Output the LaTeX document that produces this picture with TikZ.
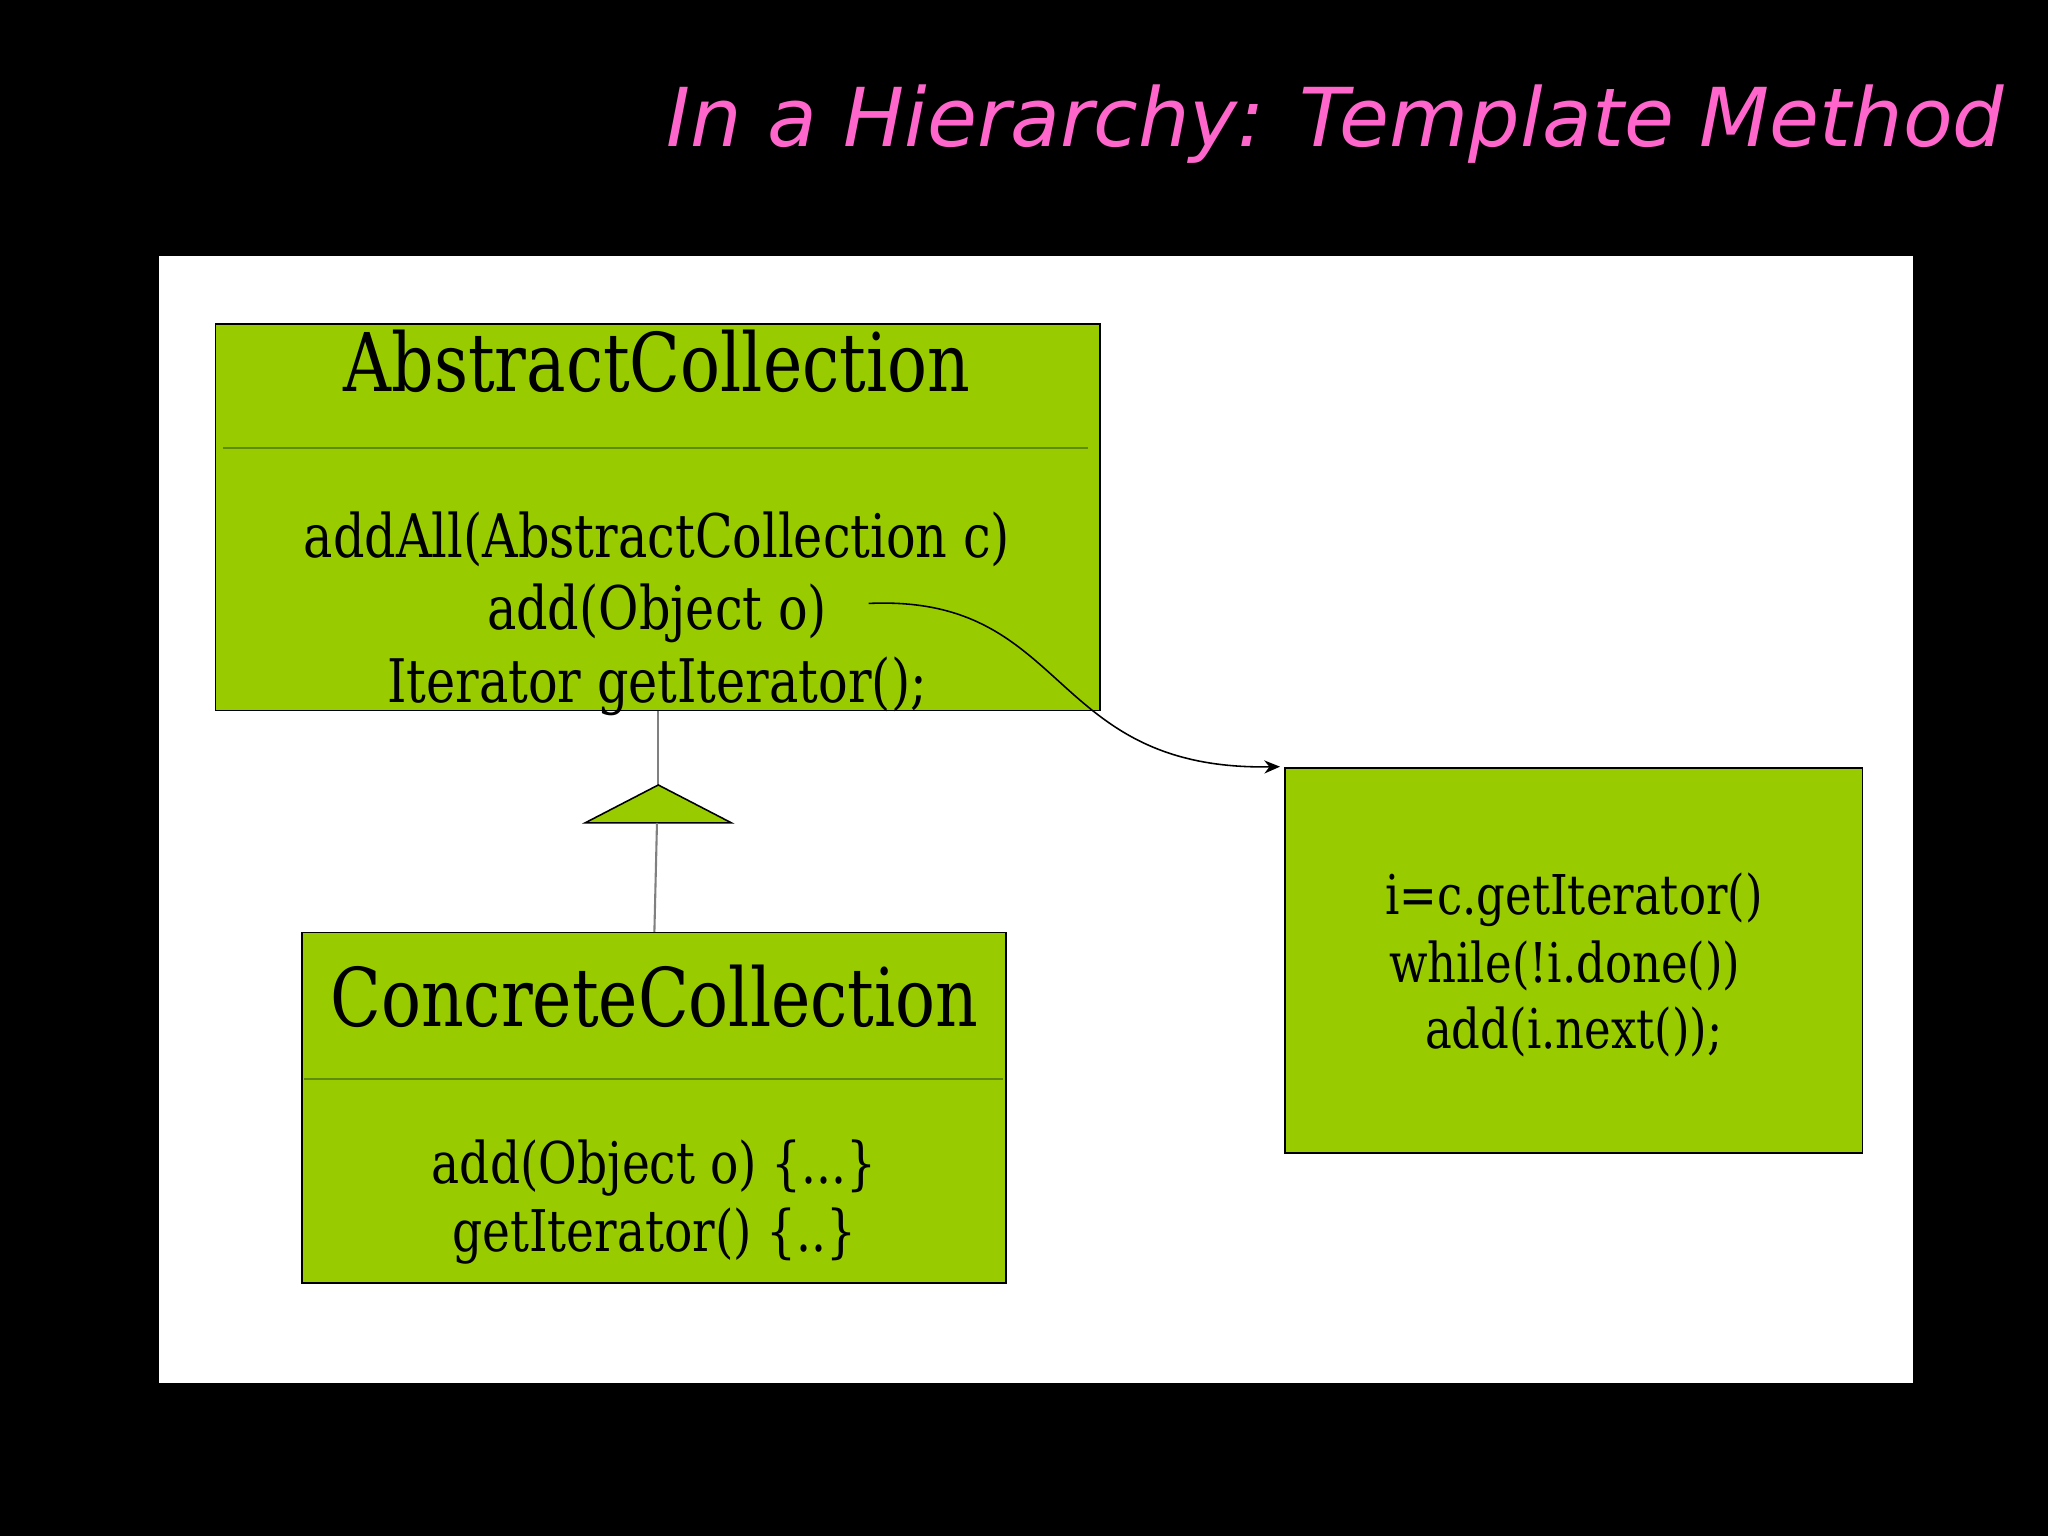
\documentclass[tikz,border=0pt]{standalone}
\usepackage{fontspec}
\newfontfamily\dv[FakeStretch=0.82]{DejaVu Serif}
\newfontfamily\ttl{DejaVu Sans}
\usetikzlibrary{arrows.meta}
\definecolor{umlgreen}{HTML}{99CC00}
\definecolor{sepgreen}{HTML}{5E8C00}
\definecolor{titlepink}{HTML}{FF66CC}
\begin{document}
\begin{tikzpicture}[x=0.5pt,y=-0.5pt,
  box/.style={draw=black,fill=umlgreen,line width=0.7pt},
  sep/.style={draw=sepgreen,line width=1pt},
  txt/.style={inner sep=0,font=\dv,text=black,anchor=base}]
\fill[black] (0,0) rectangle (1568,1176);
\useasboundingbox (0,0) rectangle (1568,1176);
\node[inner sep=0,anchor=base east,text=titlepink] (title) at (1535,112)
  {\resizebox{512pt}{!}{\ttl\itshape In a Hierarchy: Template Method}};
\fill[white] (122,196) rectangle (1465,1059);
% abstract
\path[box] (165,248) rectangle (842,544);
\draw[sep] (171,343) -- (833,343);
\node[txt,font=\dv\fontsize{31pt}{31pt}\selectfont] (atitle) at (503,300) {AbstractCollection};
\node[txt,font=\dv\fontsize{23pt}{23pt}\selectfont] (m1) at (503,427) {addAll(AbstractCollection c)};
\node[txt,font=\dv\fontsize{23pt}{23pt}\selectfont] (m2) at (503,482) {add(Object o)};
\node[txt,font=\dv\fontsize{23pt}{23pt}\selectfont] (m3) at (503,538) {Iterator getIterator();};
% inheritance
\coordinate (abot) at (504,544);
\coordinate (apex) at (504,601);
\coordinate (tb) at (503,630);
\coordinate (ctop) at (501,714);
\draw[gray,line width=0.8pt] (abot) -- (apex);
\draw[black,fill=umlgreen,line width=0.6pt] (apex) -- (560,630) -- (448,630) -- cycle;
\draw[gray,line width=0.8pt] (tb) -- (ctop);
% concrete
\path[box] (231,714) rectangle (770,982);
\draw[sep] (233,826) -- (768,826);
\node[txt,font=\dv\fontsize{31pt}{31pt}\selectfont] (ctitle) at (501,786) {ConcreteCollection};
\node[txt,font=\dv\fontsize{22pt}{22pt}\selectfont] (c1) at (501,906) {add(Object o) \{...\}};
\node[txt,font=\dv\fontsize{22pt}{22pt}\selectfont] (c2) at (501,958) {getIterator() \{..\}};
% right box
\path[box] (984,588) rectangle (1426,883);
\node[txt,font=\dv\fontsize{21pt}{21pt}\selectfont] (r1) at (1205,700) {i=c.getIterator()};
\node[txt,font=\dv\fontsize{21pt}{21pt}\selectfont] (r2) at (1198,752) {while(!i.done())};
\node[txt,font=\dv\fontsize{21pt}{21pt}\selectfont] (r3) at (1205,803) {add(i.next());};
\coordinate (cs) at (665,462);
\coordinate (ce) at (980,587);
\draw[black,line width=0.6pt,-{Stealth[length=6pt,width=5pt]}] (cs) .. controls (820,455) and (800,590) .. (ce);
\end{tikzpicture}
\end{document}
